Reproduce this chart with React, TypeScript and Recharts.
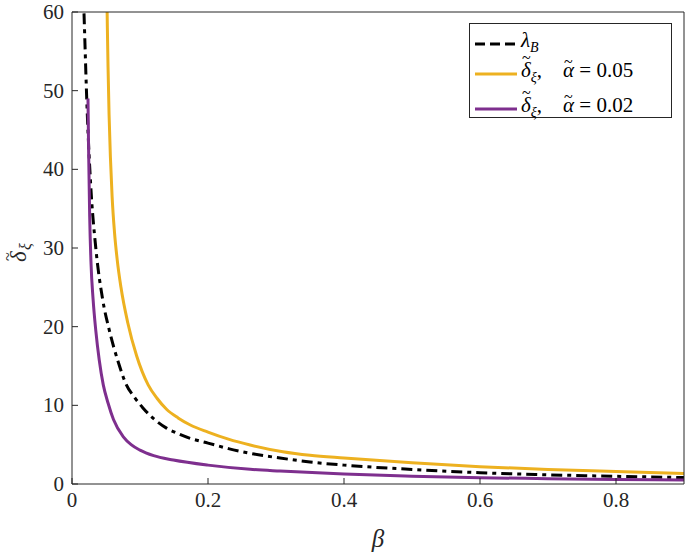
import { LineChart, Line, XAxis, YAxis, Label } from "recharts";

// beta values and curve heights
const lambdaBBeta = [0.0165, 0.0176, 0.0225, 0.0275, 0.035, 0.045, 0.055, 0.068, 0.08, 0.092, 0.104, 0.12, 0.139, 0.156, 0.174, 0.2, 0.23, 0.262, 0.306, 0.35, 0.4, 0.5, 0.6, 0.7, 0.8, 0.9];
const lambdaBValue = [63, 60, 47, 38, 30, 23.5, 19.5, 15.5, 12.6, 11.0, 9.7, 8.3, 7.1, 6.4, 5.8, 5.2, 4.5, 3.9, 3.3, 2.8, 2.4, 1.85, 1.44, 1.17, 0.98, 0.82];

const delta05Beta = [0.051, 0.052, 0.053, 0.0545, 0.0565, 0.059, 0.0625, 0.0665, 0.072, 0.082, 0.095, 0.112, 0.125, 0.139, 0.156, 0.174, 0.2, 0.23, 0.262, 0.31, 0.35, 0.4, 0.5, 0.6, 0.7, 0.8, 0.9];
const delta05Value = [64, 58, 53, 47, 41.5, 36.5, 32, 28.5, 25, 20.5, 16.3, 12.6, 10.9, 9.5, 8.4, 7.5, 6.6, 5.7, 4.95, 4.1, 3.65, 3.3, 2.7, 2.2, 1.85, 1.6, 1.35];

const delta02Beta = [0.0235, 0.0245, 0.026, 0.028, 0.031, 0.035, 0.04, 0.046, 0.053, 0.061, 0.0755, 0.087, 0.1, 0.12, 0.149, 0.2, 0.262, 0.306, 0.4, 0.5, 0.6, 0.7, 0.8, 0.9];
const delta02Value = [49, 42, 34, 28, 23.5, 19.5, 15.8, 12.6, 10.3, 8.2, 6.0, 5.0, 4.3, 3.6, 3.05, 2.4, 1.87, 1.65, 1.27, 1.0, 0.8, 0.68, 0.58, 0.5];

const xTicks = [0, 0.2, 0.4, 0.6, 0.8];
const yTicks = [0, 10, 20, 30, 40, 50, 60];

const toPoints = (xs: number[], ys: number[]) => xs.map((b, i) => ({ beta: b, v: ys[i] }));

const lambdaB = toPoints(lambdaBBeta, lambdaBValue);
const delta05 = toPoints(delta05Beta, delta05Value);
const delta02 = toPoints(delta02Beta, delta02Value);

const FONT = "'Times New Roman', 'Liberation Serif', 'DejaVu Serif', Times, serif";
const AXIS = "#262626";
const YELLOW = "#EDB120";
const PURPLE = "#7E2F8E";

const BottomTick = (props: any) => {
  const { x, y, payload } = props;
  return (
    <g>
      <line x1={x} x2={x} y1={y - 8} y2={y - 14} stroke={AXIS} />
      <text x={x} y={y} dy={15} textAnchor="middle" fontFamily={FONT} fontSize={21} fill={AXIS}>
        {payload.value}
      </text>
    </g>
  );
};

const TopTick = (props: any) => {
  const { x, y } = props;
  return <line x1={x} x2={x} y1={y} y2={y + 6} stroke={AXIS} />;
};

const LeftTick = (props: any) => {
  const { x, y, payload } = props;
  return (
    <g>
      <line x1={x + 8} x2={x + 14} y1={y} y2={y} stroke={AXIS} />
      <text x={x} y={y} dy={7} textAnchor="end" fontFamily={FONT} fontSize={21} fill={AXIS}>
        {payload.value}
      </text>
    </g>
  );
};

const RightTick = (props: any) => {
  const { x, y } = props;
  return <line x1={x} x2={x - 6} y1={y} y2={y} stroke={AXIS} />;
};

// rotated delta-tilde with xi subscript
const YLabel = () => (
  <g transform="translate(26, 255) rotate(-90)" fontFamily={FONT} fill={AXIS}>
    <text x={-7} y={0} fontSize={23} fontStyle="italic">δ</text>
    <text x={-6} y={-13} fontSize={16}>~</text>
    <text x={5} y={5} fontSize={16} fontStyle="italic">ξ</text>
  </g>
);

const XLabel = (props: any) => {
  const vb = props.viewBox;
  return (
    <text x={vb.x + vb.width / 2} y={547} textAnchor="middle" fontFamily={FONT} fontSize={25} fontStyle="italic" fill={AXIS}>
      β
    </text>
  );
};

const Tilde = ({ ch, top }: { ch: string; top: number }) => (
  <span style={{ position: "relative", display: "inline-block" }}>
    <i>{ch}</i>
    <span style={{ position: "absolute", left: 1, top, fontSize: 16, fontStyle: "normal" }}>~</span>
  </span>
);

const deltaXi = (
  <>
    <Tilde ch="δ" top={-12} />
    <sub style={{ fontSize: 14, verticalAlign: -5 }}><i>ξ</i></sub>
  </>
);

const legendRows = [
  { color: "#000", dash: true, top: 8, label: <span><i>λ</i><sub style={{ fontSize: 14, verticalAlign: -5 }}><i>B</i></sub></span> },
  { color: YELLOW, dash: false, top: 38, label: <span>{deltaXi},&nbsp;&nbsp;&nbsp;&nbsp;<Tilde ch="α" top={-8} /> = 0.05</span> },
  { color: PURPLE, dash: false, top: 73, label: <span>{deltaXi},&nbsp;&nbsp;&nbsp;&nbsp;<Tilde ch="α" top={-8} /> = 0.02</span> },
];

export default function App() {
  return (
    <div style={{ position: "absolute", left: 0, top: 0, width: 685, height: 553, background: "#fff" }}>
      <LineChart width={685} height={553} margin={{ top: 11, right: 0, left: 0, bottom: 0 }}>
        <XAxis
          dataKey="beta"
          type="number"
          domain={[0, 0.9]}
          ticks={xTicks}
          interval={0}
          height={69}
          tickSize={0}
          tickMargin={8}
          tick={<BottomTick />}
          tickLine={false}
          axisLine={{ stroke: AXIS }}
        >
          <Label content={<XLabel />} />
        </XAxis>
        <XAxis
          xAxisId="top"
          orientation="top"
          dataKey="beta"
          type="number"
          domain={[0, 0.9]}
          ticks={xTicks}
          interval={0}
          height={1}
          tickSize={0}
          tickMargin={0}
          tick={<TopTick />}
          tickLine={false}
          axisLine={{ stroke: AXIS }}
        />
        <YAxis
          type="number"
          domain={[0, 60]}
          ticks={yTicks}
          interval={0}
          allowDataOverflow
          width={72}
          tickSize={0}
          tickMargin={8}
          tick={<LeftTick />}
          tickLine={false}
          axisLine={{ stroke: AXIS }}
        >
          <Label content={<YLabel />} />
        </YAxis>
        <YAxis
          yAxisId="right"
          orientation="right"
          type="number"
          domain={[0, 60]}
          ticks={yTicks}
          interval={0}
          width={1}
          tickSize={0}
          tickMargin={0}
          tick={<RightTick />}
          tickLine={false}
          axisLine={{ stroke: AXIS }}
        />
        <Line data={lambdaB} dataKey="v" type="monotone" stroke="#000" strokeWidth={3} strokeDasharray="11 5 4 5" dot={false} isAnimationActive={false} />
        <Line data={delta05} dataKey="v" type="monotone" stroke={YELLOW} strokeWidth={3} dot={false} isAnimationActive={false} />
        <Line data={delta02} dataKey="v" type="monotone" stroke={PURPLE} strokeWidth={3} dot={false} isAnimationActive={false} />
      </LineChart>
      <div
        style={{
          position: "absolute",
          left: 469,
          top: 23,
          width: 201,
          height: 93,
          border: `1px solid ${AXIS}`,
          background: "#fff",
          fontFamily: FONT,
          fontSize: 21,
          color: "#000",
        }}
      >
        {legendRows.map((r, i) => (
          <div key={i} style={{ position: "absolute", left: 5, top: r.top, display: "flex", alignItems: "center", height: 24, lineHeight: "24px" }}>
            <svg width={42} height={6} style={{ marginRight: 4 }}>
              <line x1={0} x2={42} y1={3} y2={3} stroke={r.color} strokeWidth={3} strokeDasharray={r.dash ? "10 5" : undefined} />
            </svg>
            <span style={{ whiteSpace: "nowrap" }}>{r.label}</span>
          </div>
        ))}
      </div>
    </div>
  );
}
